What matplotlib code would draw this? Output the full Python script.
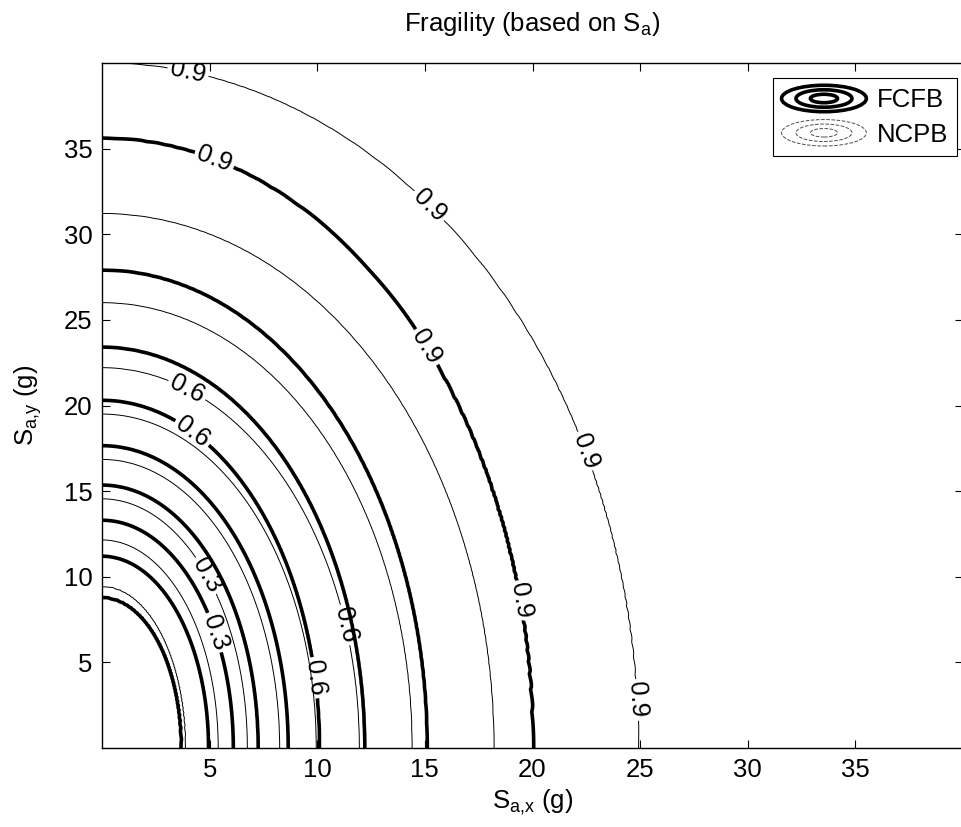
import numpy as np
import matplotlib
matplotlib.use('Agg')
import matplotlib.pyplot as plt
from matplotlib.lines import Line2D
from matplotlib.patches import Ellipse
from matplotlib.legend_handler import HandlerBase

plt.rcParams['font.family'] = ['Liberation Sans', 'DejaVu Sans']
plt.rcParams['mathtext.fontset'] = 'custom'
plt.rcParams['mathtext.rm'] = 'Liberation Sans'
plt.rcParams['mathtext.it'] = 'Liberation Sans'

# fragility levels and where each contour meets the axes (g)
levels = [0.1, 0.2, 0.3, 0.4, 0.5, 0.6, 0.7, 0.8, 0.9]
label_levels = [0.3, 0.6, 0.9]

fcfb_x = [3.7, 4.95, 6.1, 7.25, 8.65, 10.1, 12.2, 15.1, 20.0]
fcfb_y = [8.8, 11.2, 13.3, 15.35, 17.65, 20.3, 23.4, 27.9, 35.6]
ncpb_x = [3.9, 5.4, 6.75, 8.25, 9.95, 11.95, 14.4, 18.2, 24.9]
ncpb_y = [9.45, 12.15, 14.55, 16.85, 19.5, 22.2, 26.0, 31.2, 40.0]

# inline label spots
fcfb_labels = [(4.9, 6.6), (4.0, 18.1), (9.8, 4.1), (5.1, 34.0), (14.5, 23.0), (19.4, 8.6)]
ncpb_labels = [(4.6, 9.9), (3.9, 20.8), (11.0, 7.1), (3.9, 39.0), (14.9, 31.3),
               (22.0, 17.1), (24.8, 2.8)]

FS = 18.5


def fragility_surface(x_int, y_int, r_max=60.0, n_r=500, n_t=241):
    # elliptical iso-lines through the axis intercepts, linear in radius between levels
    a = np.asarray(x_int)
    b = np.asarray(y_int)
    t = np.linspace(0, np.pi / 2, n_t)
    r = np.linspace(0, r_max, n_r)
    Z = np.empty((n_t, n_r))
    for i, ti in enumerate(t):
        rk = 1.0 / np.sqrt((np.cos(ti) / a) ** 2 + (np.sin(ti) / b) ** 2)
        Z[i] = np.interp(r, np.r_[0, rk, r_max], np.r_[0, levels, 1.0])
    X = np.outer(np.cos(t), r)
    Y = np.outer(np.sin(t), r)
    return X, Y, Z


def draw_set(ax, x_int, y_int, lw, spots):
    X, Y, Z = fragility_surface(x_int, y_int)
    plain = [lv for lv in levels if lv not in label_levels]
    ax.contour(X, Y, Z, levels=plain, colors='k', linewidths=lw)
    cs = ax.contour(X, Y, Z, levels=label_levels, colors='k', linewidths=lw)
    ax.clabel(cs, manual=spots, fmt='%.1f', fontsize=FS, inline=True, inline_spacing=-4)


class RingsHandler(HandlerBase):
    def create_artists(self, legend, orig_handle, xdescent, ydescent, width, height,
                       fontsize, trans):
        cx = -xdescent + width / 2
        cy = -ydescent + height / 2
        out = []
        for f in (1.0, 0.66, 0.32):
            e = Ellipse((cx, cy), width * f, height * 1.15 * f, fill=False,
                        edgecolor=orig_handle.get_color(),
                        linewidth=orig_handle.get_linewidth(),
                        linestyle=orig_handle.get_linestyle(), transform=trans)
            out.append(e)
        return out


fig = plt.figure(figsize=(9.62, 8.27), dpi=100)
ax = fig.add_axes([102 / 962, 79 / 827, 861 / 962, 685 / 827])

draw_set(ax, fcfb_x, fcfb_y, 2.6, fcfb_labels)
draw_set(ax, ncpb_x, ncpb_y, 0.7, ncpb_labels)

ax.set_xlim(0, 40)
ax.set_ylim(0, 40)
ax.set_xticks([5, 10, 15, 20, 25, 30, 35])
ax.set_yticks([5, 10, 15, 20, 25, 30, 35])
ax.tick_params(direction='in', top=True, right=True, length=6, width=0.8,
               labelsize=FS, pad=7)
for s in ax.spines.values():
    s.set_linewidth(1.0)

ax.set_xlabel(r'S$_{\mathrm{a{,}x}}$ (g)', fontsize=FS, labelpad=4)
ax.set_ylabel(r'S$_{\mathrm{a{,}y}}$ (g)', fontsize=FS, labelpad=14)
ax.set_title(r'Fragility (based on S$_{\mathrm{a}}$)', fontsize=FS, pad=23)

h1 = Line2D([], [], color='k', linewidth=2.6, linestyle='-')
h2 = Line2D([], [], color='0.3', linewidth=0.7, linestyle=(0, (4, 3)))
leg = ax.legend([h1, h2], ['FCFB', 'NCPB'], handler_map={Line2D: RingsHandler()},
                loc='upper right', bbox_to_anchor=(957 / 962, 1 - 78 / 827),
                bbox_transform=fig.transFigure, borderaxespad=0, fontsize=FS,
                handlelength=3.3, handleheight=1.0, handletextpad=0.4,
                labelspacing=0.35, borderpad=0.35, fancybox=False, framealpha=1)
leg.get_frame().set_edgecolor('k')
leg.get_frame().set_linewidth(0.8)

fig.savefig('out.png', dpi=100)
